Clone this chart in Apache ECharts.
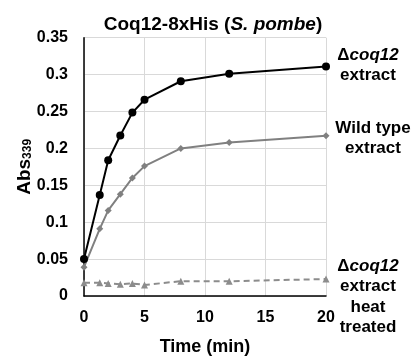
<!DOCTYPE html>
<html>
<head>
<meta charset="utf-8">
<script src="https://cdn.jsdelivr.net/npm/echarts@6/dist/echarts.min.js"></script>
<style>
html,body{margin:0;padding:0;background:#fff;}
#c{width:415px;height:361px;}
</style>
</head>
<body>
<div id="c"></div>
<script>
var times = [0, 1.3, 2, 3, 4, 5, 8, 12, 20];
var deltaExtract = [0.050, 0.137, 0.184, 0.2175, 0.2485, 0.266, 0.291, 0.301, 0.311];
var wildType = [0.039, 0.091, 0.116, 0.138, 0.160, 0.176, 0.200, 0.208, 0.217];
var heatTreated = [0.018, 0.018, 0.017, 0.016, 0.017, 0.015, 0.020, 0.020, 0.023];
var xTicks = [0, 5, 10, 15, 20];
var yTicks = ['0', '0.05', '0.1', '0.15', '0.2', '0.25', '0.3', '0.35'];

var FONT = 'Liberation Sans, Arial, sans-serif';
function pairs(ys){ return times.map(function(t,i){ return [t, ys[i]]; }); }

var chart = echarts.init(document.getElementById('c'), null, {renderer:'canvas'});
function label(x, yTop, lines){
  return {type: 'text', x: x, y: yTop, style: {
    text: lines, textAlign: 'center', textVerticalAlign: 'top',
    rich: {
      d: {fontFamily: FONT, fontWeight: 'bold', fontSize: 17, fill: '#000', lineHeight: 20.5},
      i: {fontFamily: FONT, fontWeight: 'bold', fontStyle: 'italic', fontSize: 17, fill: '#000', lineHeight: 20.5},
      n: {fontFamily: FONT, fontWeight: 'bold', fontSize: 17, fill: '#000', lineHeight: 20.5}
    }}};
}
var option = {
  animation: false,
  backgroundColor: '#fff',
  title: {
    text: '{n|Coq12-8xHis (}{i|S. pombe}{n|)}',
    left: 208, top: 10, textAlign: 'center',
    textStyle: {
      rich: {
        n: {fontFamily: FONT, fontWeight: 'bold', fontSize: 19, color: '#000'},
        i: {fontFamily: FONT, fontWeight: 'bold', fontStyle: 'italic', fontSize: 19, color: '#000'}
      }
    }
  },
  grid: {left: 84, right: 89, top: 37.7, bottom: 59.3, containLabel: false},
  xAxis: {
    type: 'value', min: 0, max: 20, interval: 5,
    name: 'Time (min)', nameLocation: 'middle', nameGap: 42,
    nameTextStyle: {fontFamily: FONT, fontWeight: 'bold', fontSize: 18, color: '#000'},
    axisLine: {show: true, onZero: false, lineStyle: {color: '#000', width: 1.5}},
    axisTick: {show: false},
    axisLabel: {fontFamily: FONT, fontWeight: 'bold', fontSize: 16, color: '#000', margin: 14,
      formatter: function(v){ var i = xTicks.indexOf(v); return i >= 0 ? String(xTicks[i]) : ''; }},
    splitLine: {show: true, lineStyle: {color: '#d9d9d9', width: 1}}
  },
  yAxis: {
    type: 'value', min: 0, max: 0.35, interval: 0.05,
    name: '{a|Abs}{b|339}', nameLocation: 'middle', nameGap: 50, nameRotate: 90,
    nameMoveOverlap: false,
    nameTextStyle: {
      rich: {
        a: {fontFamily: FONT, fontWeight: 'bold', fontSize: 19, color: '#000', lineHeight: 22, verticalAlign: 'bottom'},
        b: {fontFamily: FONT, fontWeight: 'bold', fontSize: 12, color: '#000', lineHeight: 22, verticalAlign: 'bottom', padding: [8, 0, 0, 0]}
      }
    },
    axisLine: {show: true, lineStyle: {color: '#000', width: 1.5}},
    axisTick: {show: false},
    axisLabel: {fontFamily: FONT, fontWeight: 'bold', fontSize: 16, color: '#000', margin: 16,
      formatter: function(v){ return yTicks[Math.round(v / 0.05)]; }},
    splitLine: {show: true, lineStyle: {color: '#d9d9d9', width: 1}}
  },
  series: [
    {
      name: 'heat', type: 'line', data: pairs(heatTreated),
      symbol: 'triangle', symbolSize: 7,
      lineStyle: {color: '#8c8c8c', width: 2, type: [6, 4]},
      itemStyle: {color: '#8c8c8c'}, z: 2
    },
    {
      name: 'wt', type: 'line', data: pairs(wildType),
      symbol: 'diamond', symbolSize: 7,
      lineStyle: {color: '#808080', width: 2},
      itemStyle: {color: '#808080'}, z: 3
    },
    {
      name: 'delta', type: 'line', data: pairs(deltaExtract),
      symbol: 'circle', symbolSize: 8,
      lineStyle: {color: '#000', width: 2},
      itemStyle: {color: '#000'}, z: 4
    }
  ],
  graphic: [
    label(368, 45, '{d|Δ}{i|coq12}\n{n|extract}'),
    label(373, 118, '{n|Wild type}\n{n|extract}'),
    label(368, 256, '{d|Δ}{i|coq12}\n{n|extract}\n{n|heat}\n{n|treated}')
  ]
};
chart.setOption(option);
</script>
</body>
</html>
